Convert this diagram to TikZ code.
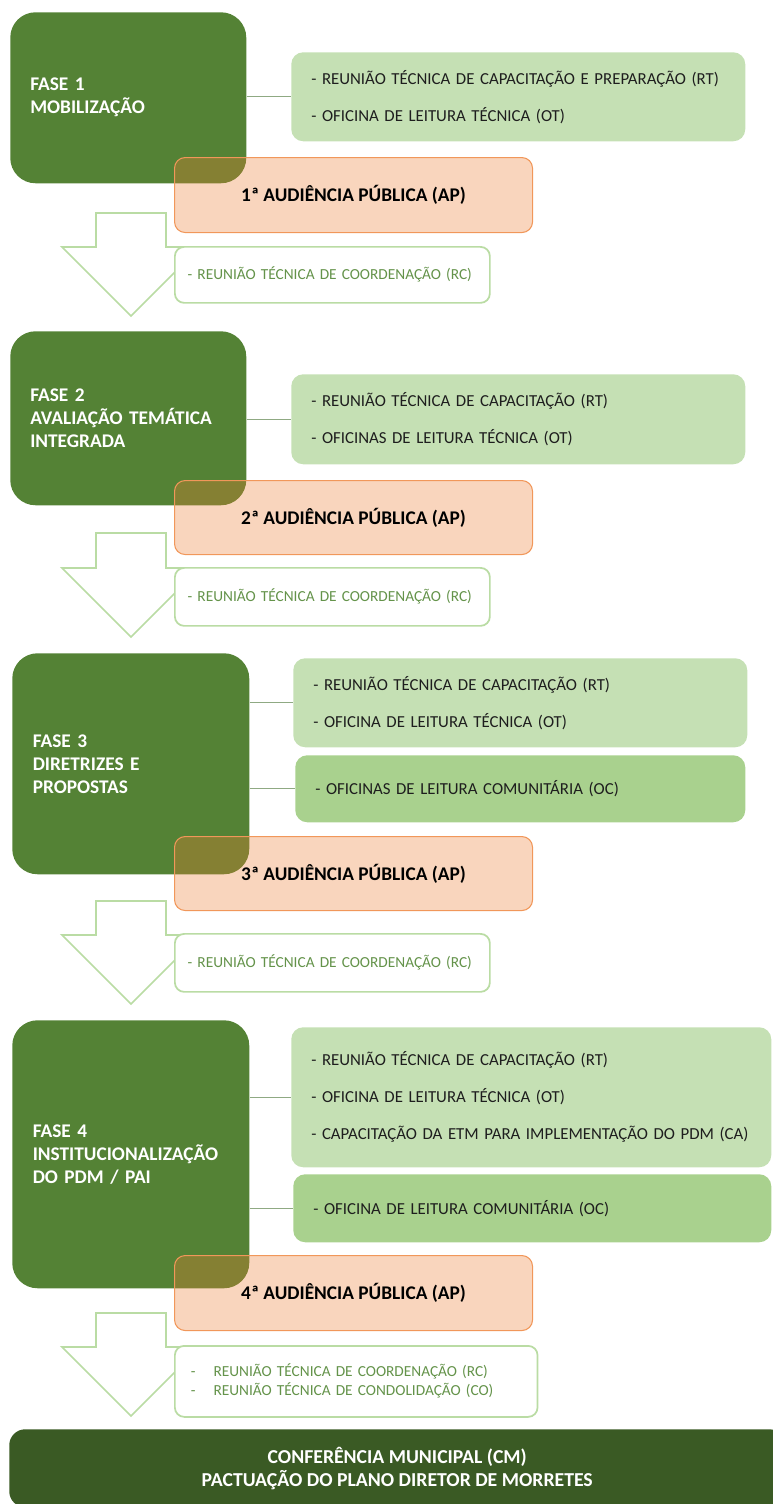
\documentclass[tikz,border=0pt]{standalone}
\usepackage{fontspec}
\setmainfont{Carlito}
\usetikzlibrary{positioning}

\definecolor{phasegreen}{HTML}{548235}
\definecolor{actlight}{HTML}{C5E0B4}
\definecolor{actmid}{HTML}{A9D18E}
\definecolor{aporange}{HTML}{ED7D31}
\definecolor{rcline}{HTML}{BADCA4}
\definecolor{rctext}{HTML}{64934A}
\definecolor{confgreen}{HTML}{3A5A24}
\definecolor{linkgray}{HTML}{8FA983}
\definecolor{darktext}{HTML}{1E1E1E}

\begin{document}
\begin{tikzpicture}[x=0.75pt, y=-0.75pt,
  wh/.style 2 args={minimum width=#1*0.75pt, minimum height=#2*0.75pt},
  phasebox/.style={anchor=north west, fill=phasegreen, rounded corners=19pt,
    text=white, font=\fontsize{14.5}{17.25}\selectfont\bfseries,
    align=left, inner xsep=15pt, text width=147pt},
  actbox/.style={anchor=north west, fill=#1, rounded corners=9pt, text=darktext,
    font=\fontsize{12.6}{27.75}\selectfont, align=left, inner xsep=15pt, text width=310.5pt},
  apbox/.style={anchor=north west, fill=aporange, fill opacity=0.32, text opacity=1,
    draw=aporange!80!white, line width=0.8pt, rounded corners=8pt,
    font=\fontsize{14.5}{17}\selectfont\bfseries, text=black},
  rcbox/.style={anchor=north west, fill=white, draw=rcline, line width=1.3pt,
    rounded corners=7pt, text=rctext, font=\fontsize{11.5}{14.25}\selectfont,
    align=left, inner xsep=9.5pt, text width=#1},
  confbox/.style={anchor=north west, fill=confgreen, rounded corners=12pt, text=white,
    font=\fontsize{14.8}{17.25}\selectfont\bfseries, align=center},
  link/.style={draw=linkgray, line width=0.8pt},
  downarrow/.style={draw=rcline, line width=1.3pt, fill=white}]
\useasboundingbox (0,0) rectangle (773,1504);

% hollow arrows between the phases (shaft top / head base)
\foreach \t/\b in {213/247,533/568,901/935,1313/1347}
  \draw[downarrow] (96,\t) -- (166,\t) -- (166,\b) -- (200,\b)
    -- (131,\b+69) -- (62,\b) -- (96,\b) -- cycle;

% fase 1
\node[phasebox, wh={236}{171}] (F1) at (10,12) {FASE 1\\MOBILIZAÇÃO};
\node[actbox=actlight, wh={454}{89}] (A1) at (291,52)
  {- REUNIÃO TÉCNICA DE CAPACITAÇÃO E PREPARAÇÃO (RT)\\- OFICINA DE LEITURA TÉCNICA (OT)};
\node[apbox, wh={358}{75}] (P1) at (174,157) {1ª AUDIÊNCIA PÚBLICA (AP)};
\node[rcbox=217pt, wh={315}{56}] (R1) at (174,246) {- REUNIÃO TÉCNICA DE COORDENAÇÃO (RC)};
\draw[link] (F1.east |- A1.west) -- (A1.west);

% fase 2
\node[phasebox, wh={236}{174}] (F2) at (10,331) {FASE 2\\AVALIAÇÃO TEMÁTICA\\INTEGRADA};
\node[actbox=actlight, wh={454}{90}] (A2) at (291,374)
  {- REUNIÃO TÉCNICA DE CAPACITAÇÃO (RT)\\- OFICINAS DE LEITURA TÉCNICA (OT)};
\node[apbox, wh={358}{74}] (P2) at (174,480) {2ª AUDIÊNCIA PÚBLICA (AP)};
\node[rcbox=217pt, wh={315}{58}] (R2) at (174,567) {- REUNIÃO TÉCNICA DE COORDENAÇÃO (RC)};
\draw[link] (F2.east |- A2.west) -- (A2.west);

% fase 3
\node[phasebox, wh={237}{221}] (F3) at (12,653) {FASE 3\\DIRETRIZES E\\PROPOSTAS};
\node[actbox=actlight, wh={452}{89}] (A3) at (293,658)
  {- REUNIÃO TÉCNICA DE CAPACITAÇÃO (RT)\\- OFICINA DE LEITURA TÉCNICA (OT)};
\node[actbox=actmid, wh={450}{67}, text width=307.5pt] (C3) at (295,755)
  {- OFICINAS DE LEITURA COMUNITÁRIA (OC)};
\node[apbox, wh={358}{74}] (P3) at (174,836) {3ª AUDIÊNCIA PÚBLICA (AP)};
\node[rcbox=217pt, wh={315}{58}] (R3) at (174,933) {- REUNIÃO TÉCNICA DE COORDENAÇÃO (RC)};
\draw[link] (F3.east |- A3.west) -- (A3.west);
\draw[link] (F3.east |- C3.west) -- (C3.west);

% fase 4
\node[phasebox, wh={237}{268}] (F4) at (12,1020) {FASE 4\\INSTITUCIONALIZAÇÃO\\DO PDM / PAI};
\node[actbox=actlight, wh={480}{140}, text width=330pt] (A4) at (291,1027)
  {- REUNIÃO TÉCNICA DE CAPACITAÇÃO (RT)\\- OFICINA DE LEITURA TÉCNICA (OT)\\
   - CAPACITAÇÃO DA ETM PARA IMPLEMENTAÇÃO DO PDM (CA)};
\node[actbox=actmid, wh={478}{68}, text width=328.5pt] (C4) at (293,1174)
  {- OFICINA DE LEITURA COMUNITÁRIA (OC)};
\node[apbox, wh={358}{75}] (P4) at (174,1255) {4ª AUDIÊNCIA PÚBLICA (AP)};
\node[rcbox=248pt, wh={358}{71}, inner xsep=12pt] (R4) at (174,1345)
  {\makebox[17pt][l]{-}REUNIÃO TÉCNICA DE COORDENAÇÃO (RC)\\
   \makebox[17pt][l]{-}REUNIÃO TÉCNICA DE CONDOLIDAÇÃO (CO)};
\draw[link] (F4.east |- A4.west) -- (A4.west);
\draw[link] (F4.east |- C4.west) -- (C4.west);

% conferencia final
\node[confbox, wh={776}{78}] (CM) at (9,1429)
  {CONFERÊNCIA MUNICIPAL (CM)\\PACTUAÇÃO DO PLANO DIRETOR DE MORRETES};
\end{tikzpicture}
\end{document}
